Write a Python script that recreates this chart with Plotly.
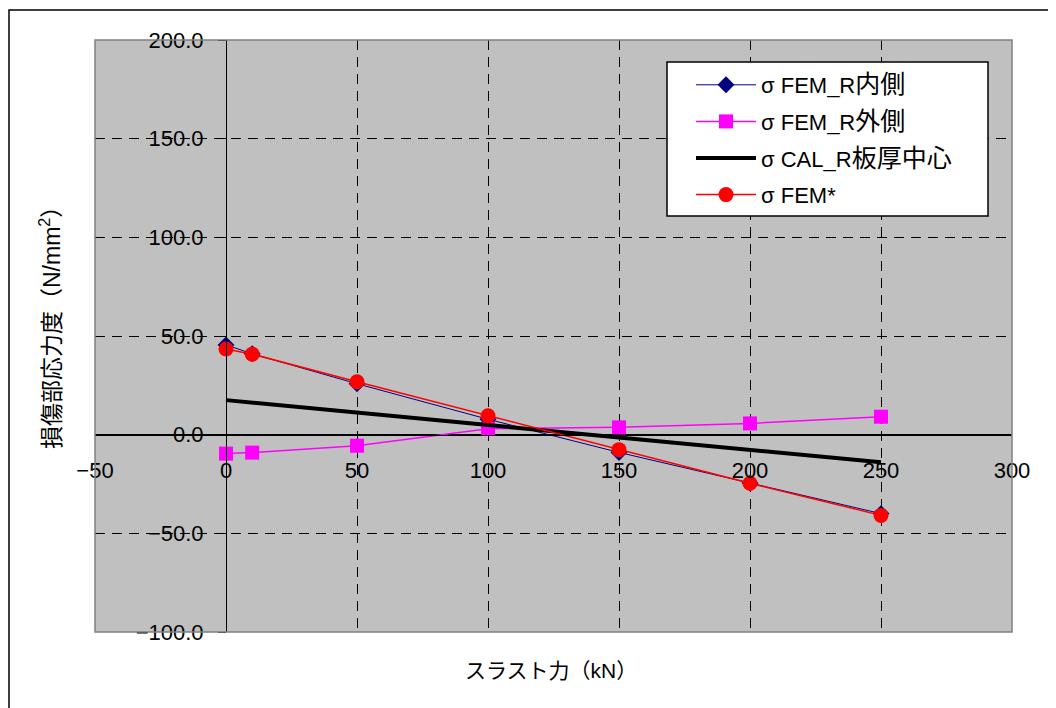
import plotly.graph_objects as go

# Data
x_vals = [0, 10, 50, 100, 150, 200, 250]
fem_r_inner = [45.5, 41.0, 25.8, 7.8, -9.0, -24.5, -40.0]
fem_r_outer = [-9.6, -9.1, -5.6, 3.0, 3.7, 5.7, 9.1]
cal_r_center = [17.5, 16.2, 11.2, 4.9, -1.4, -7.7, -14.0]
fem_star = [43.4, 40.8, 26.8, 9.6, -7.6, -24.6, -40.9]

series_names = ["σ FEM_R内側", "σ FEM_R外側", "σ CAL_R板厚中心", "σ FEM*"]
x_title = "スラスト力（kN）"
y_title = "損傷部応力度（N/mm<sup>2</sup>）"

FONT = "Liberation Sans, Arial, Noto Sans CJK JP, sans-serif"

# the page body adds an 8px offset; plot area target: x 95..1012, y 40..632
OFF = 8
L, T = 95 - OFF, 40 - OFF
PW, PH = 917, 592
W, H = 1056, 708


def px(xp):
    return (xp - 95) / PW


def py(yp):
    return (632 - yp) / PH


def big_cjk(s, size=25):
    out = ""
    for ch in s:
        if ord(ch) > 0x2E80:
            out += '<span style="font-size:%dpx">%s</span>' % (size, ch)
        else:
            out += ch
    return out


fig = go.Figure()
fig.add_trace(go.Scatter(
    x=x_vals, y=fem_r_inner, name=big_cjk(series_names[0]), mode="lines+markers",
    legendgroup="a",
    line=dict(color="#000080", width=1),
    marker=dict(symbol="diamond", size=13, color="#000080")))
fig.add_trace(go.Scatter(
    x=x_vals, y=fem_r_outer, name=big_cjk(series_names[1]), mode="lines+markers",
    legendgroup="b",
    line=dict(color="#FF00FF", width=1.5),
    marker=dict(symbol="square", size=14, color="#FF00FF")))
fig.add_trace(go.Scatter(
    x=x_vals, y=cal_r_center, name=big_cjk(series_names[2]), mode="lines",
    legendgroup="c",
    line=dict(color="#000000", width=4)))
fig.add_trace(go.Scatter(
    x=x_vals, y=fem_star, name=big_cjk(series_names[3]), mode="lines+markers",
    legendgroup="d",
    line=dict(color="#FF0000", width=1.5),
    marker=dict(symbol="circle", size=15, color="#FF0000")))

fig.update_layout(
    width=W, height=H,
    margin=dict(l=L, r=W - L - PW, t=T, b=H - T - PH),
    paper_bgcolor="white",
    plot_bgcolor="#C0C0C0",
    font=dict(family=FONT, size=22, color="#000000"),
    showlegend=True,
    legend=dict(
        x=px(691), y=py(64), xanchor="left", yanchor="top",
        bgcolor="rgba(0,0,0,0)", borderwidth=0,
        font=dict(family=FONT, size=22, color="#000000"),
        itemwidth=60, tracegroupgap=5,
    ),
)

fig.update_xaxes(
    range=[-50, 300], dtick=50, tick0=0,
    anchor="free", position=1/3,
    showline=True, linecolor="black", linewidth=1,
    showgrid=True, gridcolor="black", gridwidth=1, griddash="10px,7px",
    zeroline=True, zerolinecolor="black", zerolinewidth=1,
    ticks="", ticklabelstandoff=16, tickfont=dict(size=22),
)
fig.update_yaxes(
    range=[-100, 200], dtick=50, tick0=0, tickformat=".1f",
    anchor="free", position=50/350,
    showline=True, linecolor="black", linewidth=1,
    showgrid=True, gridcolor="black", gridwidth=1, griddash="10px,7px",
    zeroline=True, zerolinecolor="black", zerolinewidth=1,
    ticks="outside", ticklen=8, tickcolor="black",
    ticklabelstandoff=10, tickfont=dict(size=22),
)

# Plot area border
fig.add_shape(type="rect", xref="paper", yref="paper", x0=0, y0=0, x1=1, y1=1,
              line=dict(color="#808080", width=1.5), layer="above")
# Legend box
fig.add_shape(type="rect", xref="paper", yref="paper",
              x0=px(667), y0=py(216), x1=px(988), y1=py(62),
              line=dict(color="black", width=1.5), fillcolor="white", layer="above")
# Outer frame
fig.add_shape(type="rect", xref="paper", yref="paper",
              x0=px(9), y0=py(720), x1=px(1070), y1=py(10),
              line=dict(color="black", width=1.5))

# Axis titles
fig.add_annotation(text=x_title, xref="paper", yref="paper",
                   x=px(551), y=py(670),
                   showarrow=False, font=dict(family=FONT, size=21),
                   xanchor="center", yanchor="middle")
fig.add_annotation(text=y_title, xref="paper", yref="paper",
                   x=px(50), y=py(322),
                   showarrow=False, textangle=-90,
                   font=dict(family=FONT, size=23),
                   xanchor="center", yanchor="middle")

fig.write_html("out.html")
